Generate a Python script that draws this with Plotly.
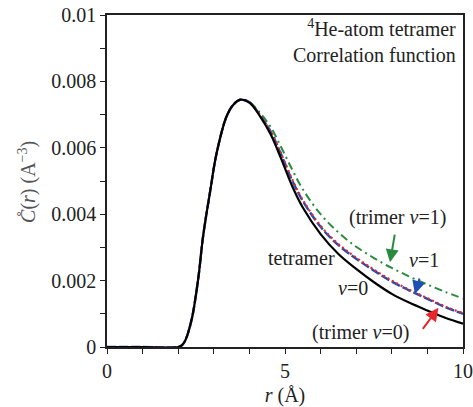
import plotly.graph_objects as go

# ---- data ----
r = [0.0, 1.0, 2.0, 2.1, 2.2, 2.38, 2.56, 2.7, 2.89, 3.08, 3.36, 3.55, 3.75,
     4.0, 4.3, 4.6, 4.9, 5.2, 5.5, 6.0, 6.5, 7.0, 7.5, 8.0, 8.5, 9.0, 9.5, 10.0]

rise = [0, 0, 0, 0.00005, 0.0002, 0.00084, 0.00204, 0.00334, 0.00464,
        0.00584, 0.00695, 0.0073, 0.00745]

tetramer_v0 = rise + [0.00736, 0.00695, 0.0064, 0.00565, 0.00485, 0.0042, 0.0034,
                      0.0028, 0.00235, 0.00195, 0.0016, 0.00133, 0.0011, 0.00088, 0.0007]
tetramer_v1 = rise + [0.00737, 0.00698, 0.00648, 0.00578, 0.00502, 0.0044, 0.00362,
                      0.00307, 0.00266, 0.0023, 0.00197, 0.0017, 0.00145, 0.0012, 0.0010]
trimer_v0 = rise + [0.00737, 0.00698, 0.00649, 0.0058, 0.00505, 0.00443, 0.00365,
                    0.0031, 0.00269, 0.00233, 0.0020, 0.00172, 0.00147, 0.00122, 0.00102]
trimer_v1 = rise + [0.00738, 0.00705, 0.00662, 0.0060, 0.00535, 0.00475, 0.0040,
                    0.00345, 0.00302, 0.00268, 0.00238, 0.00212, 0.00188, 0.00166, 0.00146]

y_ticks = [0, 0.002, 0.004, 0.006, 0.008, 0.01]
y_tick_text = ["0", "0.002", "0.004", "0.006", "0.008", "0.01"]
x_ticks = [0, 5, 10]
x_tick_text = ["0", "5", "10"]

GREEN = "#2a8a3e"
BLUE = "#1f4fb4"
RED = "#e8252a"
FONT = "Liberation Serif"

fig = go.Figure()
fig.add_trace(go.Scatter(x=r, y=trimer_v1, mode="lines", line_shape="spline",
                         line=dict(color=GREEN, width=2, dash="8px,4px,2px,4px")))
fig.add_trace(go.Scatter(x=r, y=tetramer_v1, mode="lines", line_shape="spline",
                         line=dict(color=BLUE, width=2.4, dash="9px,3px")))
fig.add_trace(go.Scatter(x=r, y=trimer_v0, mode="lines", line_shape="spline",
                         line=dict(color=RED, width=2.2, dash="2px,3px")))
fig.add_trace(go.Scatter(x=r, y=tetramer_v0, mode="lines", line_shape="spline",
                         line=dict(color="black", width=2.2)))

tf = dict(family=FONT, size=20, color="#222")

def label(x, y, text):
    fig.add_annotation(x=x, y=y, text=text, showarrow=False, font=tf,
                       xanchor="center", yanchor="middle")

label(8.15, 0.00391, "(trimer <i>v</i>=1)")
label(8.9, 0.00261, "<i>v</i>=1")
label(5.45, 0.00267, "tetramer")
label(6.91, 0.00177, "<i>v</i>=0")
label(7.13, 0.00044, "(trimer <i>v</i>=0)")

def arrow(x0, y0, x1, y1, color):
    fig.add_annotation(x=x1, y=y1, ax=x0, ay=y0, xref="x", yref="y",
                       axref="x", ayref="y", text="", showarrow=True,
                       arrowhead=2, arrowsize=1.3, arrowwidth=2, arrowcolor=color)

arrow(8.09, 0.00343, 7.95, 0.00255, GREEN)
arrow(8.79, 0.00211, 8.65, 0.00160, BLUE)
arrow(8.84, 0.00050, 9.31, 0.00118, RED)

fig.add_annotation(x=1, y=1, xref="paper", yref="paper", xanchor="right", yanchor="top",
                   xshift=-5, yshift=1, showarrow=False, align="right", font=tf,
                   text="<sup>4</sup>He-atom tetramer<br>Correlation function")

# y-axis title placed as rotated text
fig.add_annotation(x=-0.222, y=0.497, xref="paper", yref="paper", xanchor="center",
                   yanchor="middle", textangle=-90, showarrow=False,
                   font=dict(family=FONT, size=20, color="#555"),
                   text="<i>C̊</i>(<i>r</i>) (A<sup>−3</sup>)")

axis_common = dict(showline=True, linecolor="#222", linewidth=1.5, mirror=True,
                   ticks="outside", ticklen=5, tickwidth=1.2, tickcolor="#222",
                   showgrid=False, zeroline=False, automargin=False,
                   tickfont=dict(family=FONT, size=20, color="#222"))

fig.update_xaxes(range=[0, 10], tickvals=x_ticks, ticktext=x_tick_text,
                 minor=dict(dtick=1, ticks="outside", ticklen=5, tickcolor="#222"),
                 title=dict(text="<i>r</i> (Å)", font=dict(family=FONT, size=20, color="#222"),
                            standoff=8),
                 **axis_common)
fig.update_yaxes(range=[0, 0.01], tickvals=y_ticks, ticktext=y_tick_text,
                 minor=dict(dtick=0.001, ticks="outside", ticklen=5, tickcolor="#222"),
                 **axis_common)

fig.update_layout(width=473, height=407,
                  margin=dict(l=107, r=10, t=15, b=60, autoexpand=False),
                  plot_bgcolor="white", paper_bgcolor="white", showlegend=False)

fig.write_html("out.html")
